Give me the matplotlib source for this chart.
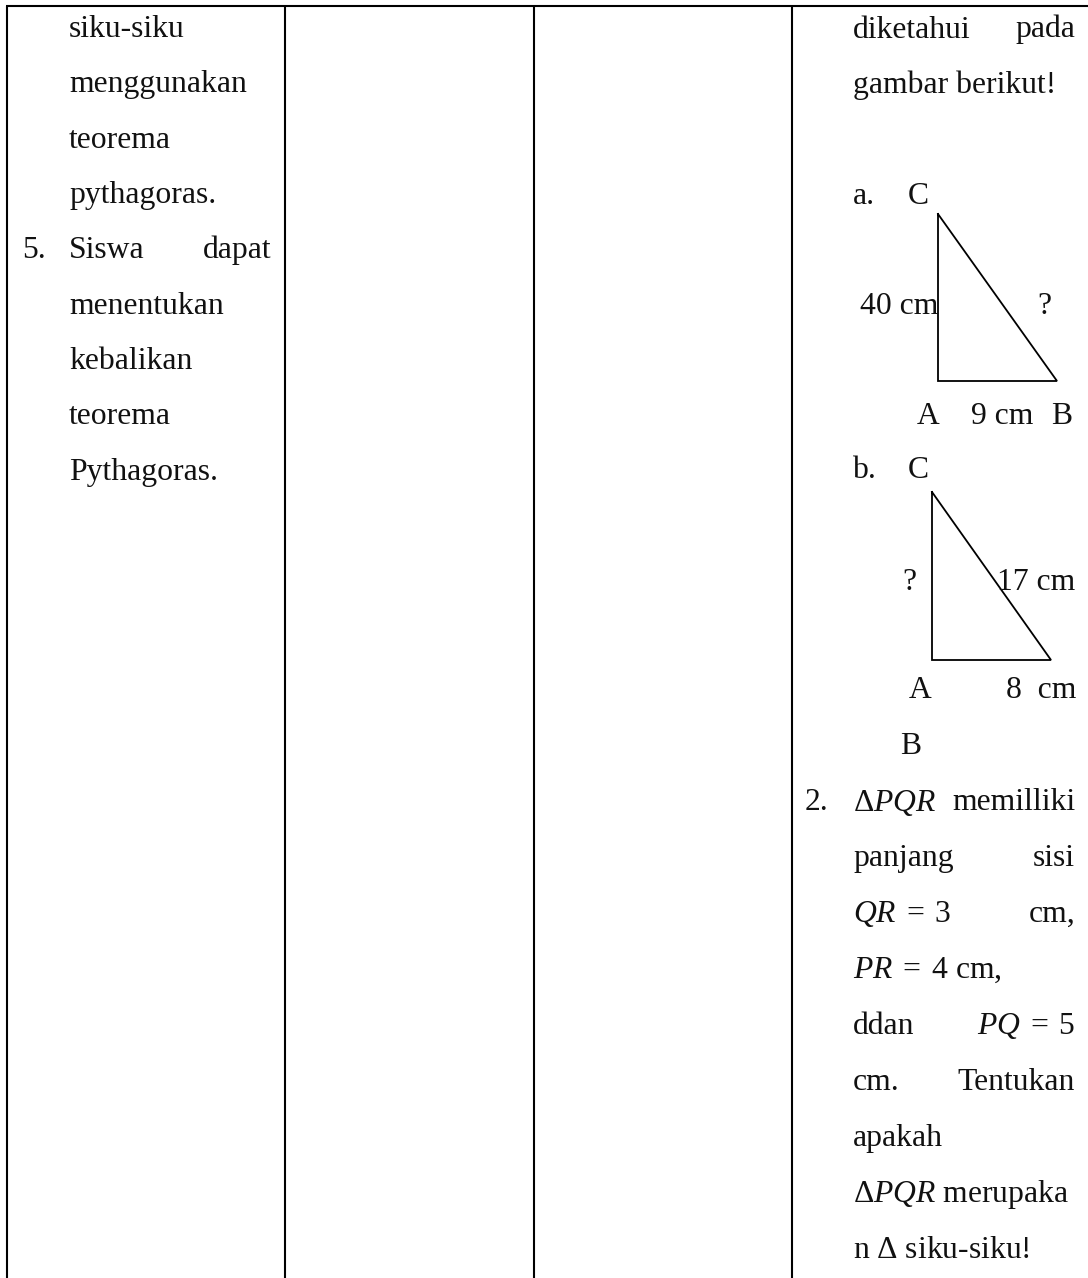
import matplotlib
matplotlib.use("Agg")
import matplotlib.pyplot as plt

plt.rcParams['font.family'] = ['Liberation Serif', 'DejaVu Serif']
plt.rcParams['mathtext.fontset'] = 'custom'
plt.rcParams['mathtext.rm'] = 'Liberation Serif'
plt.rcParams['mathtext.it'] = 'Liberation Serif:italic'

# Left column text, (number, left words, right words)
left_lines = [
    ('', 'siku-siku', ''),
    ('', 'menggunakan', ''),
    ('', 'teorema', ''),
    ('', 'pythagoras.', ''),
    ('5.', 'Siswa', 'dapat'),
    ('', 'menentukan', ''),
    ('', 'kebalikan', ''),
    ('', 'teorema', ''),
    ('', 'Pythagoras.', ''),
]

# Right column text
top_lines = [('diketahui', 'pada'), ('gambar berikut!', '')]
bottom_lines = [
    ('2.', r'$\Delta PQR$', 'memilliki'),
    ('', 'panjang', 'sisi'),
    ('', r'$QR\;=\;3$', 'cm,'),
    ('', r'$PR\;=\;4$ cm,', ''),
    ('', 'ddan', r'$PQ\;=\;5$'),
    ('', 'cm.', 'Tentukan'),
    ('', 'apakah', ''),
    ('', r'$\Delta PQR$ merupaka', ''),
    ('', r'n $\Delta$ siku-siku!', ''),
]

# Triangle labels
tri_a_labels = ['a.', 'C', '40 cm', '?', 'A', '9 cm', 'B']
tri_b_labels = ['b.', 'C', '?', '17 cm', 'A', '8  cm', 'B']

fig = plt.figure(figsize=(10.88, 12.78), dpi=100)
ax = fig.add_axes([0, 0, 1, 1])
ax.set_xlim(0, 1088)
ax.set_ylim(1278, 0)
ax.axis('off')

FS = 22.8
LW = 1.5


def put(x, y, s, ha='left'):
    # text comes out a bit high against the measured baselines
    ax.text(x, y + 1.5, s, fontsize=FS, ha=ha, va='baseline', color='#111111')


# Table borders
ax.plot([5.5, 1088], [6, 6], color='black', lw=LW, solid_capstyle='butt')
for x in [6.5, 285, 534, 792]:
    ax.plot([x, x], [6, 1278], color='black', lw=LW, solid_capstyle='butt')

# Left column
for i, (num, a, b) in enumerate(left_lines):
    y = 35.5 + i * 55.35
    if num:
        put(22, y, num)
    put(69, y, a)
    if b:
        put(271, y, b, ha='right')

# Right column, top
for y, (a, b) in zip([36, 91], top_lines):
    put(853, y, a)
    if b:
        put(1075, y, b, ha='right')

# Triangle a
for (x, y), s in zip([(853, 202), (908, 202), (860, 313), (1037, 313), (917, 423), (971, 423), (1051, 423)], tri_a_labels):
    put(x, y, s)
ax.plot([938, 938, 1057, 938], [214, 381, 381, 214], color='black', lw=1.3, solid_joinstyle='miter')

# Triangle b
for (x, y), s in zip([(853, 477), (908, 477), (902, 588), (997, 588), (909, 697), (1006, 697), (900, 753)], tri_b_labels):
    put(x, y, s)
ax.plot([932, 932, 1051, 932], [492, 660, 660, 492], color='black', lw=1.3, solid_joinstyle='miter')

# Right column, bottom
for i, (num, a, b) in enumerate(bottom_lines):
    y = 809 + i * 55.9
    if num:
        put(805, y, num)
    put(853, y, a)
    if b:
        put(1075, y, b, ha='right')

fig.savefig('out.png', dpi=100)
